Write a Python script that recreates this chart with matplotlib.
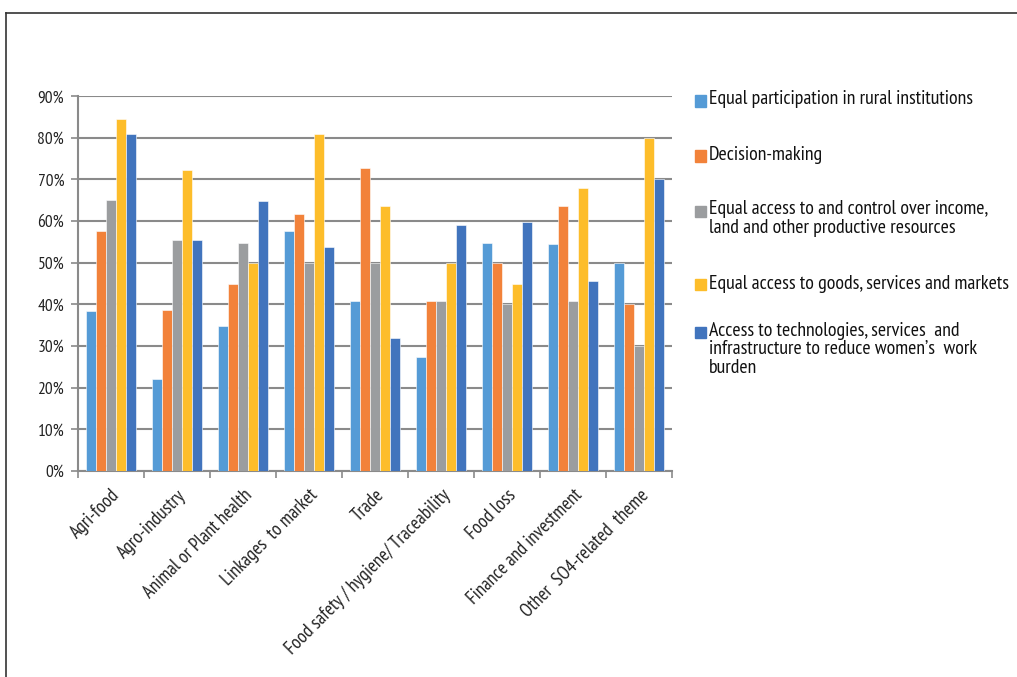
import matplotlib.pyplot as plt
import matplotlib.patches as mpatches
import matplotlib.lines as mlines
import numpy as np

plt.rcParams['font.family'] = ['PT Sans Narrow', 'Liberation Sans', 'DejaVu Sans']

# data
categories = ['Agri-food', 'Agro-industry', 'Animal or Plant health', 'Linkages  to market',
              'Trade', 'Food safety / hygiene/ Traceability', 'Food loss',
              'Finance and investment', 'Other  SO4-related  theme']
series_names = ['Equal participation in rural institutions',
                'Decision-making',
                'Equal access to and control over income,\nland and other productive resources',
                'Equal access to goods, services and markets',
                'Access to technologies, services  and\ninfrastructure to reduce women\u2019s  work\nburden']
participation = [38.4, 22.2, 34.7, 57.6, 40.8, 27.3, 54.8, 54.5, 50.0]
decision = [57.6, 38.7, 44.8, 61.6, 72.7, 40.8, 50.0, 63.7, 40.0]
income_land = [65.1, 55.4, 54.8, 50.0, 50.0, 40.8, 40.0, 40.8, 30.0]
goods_markets = [84.4, 72.3, 50.0, 80.9, 63.7, 50.0, 44.8, 68.0, 80.0]
technologies = [80.9, 55.4, 64.8, 53.7, 31.9, 59.1, 59.8, 45.5, 70.0]
yticks = [0, 10, 20, 30, 40, 50, 60, 70, 80, 90]

values = [participation, decision, income_land, goods_markets, technologies]
colors = ['#559bd6', '#f2823a', '#9b9d9f', '#fdbd2a', '#4174bd']

fig = plt.figure(figsize=(10.17, 6.77), dpi=100, facecolor='white')
ax = fig.add_axes([0.0767, 0.3043, 0.5843, 0.5537])

x = np.arange(len(categories))
w = 0.152
for i, (vals, c) in enumerate(zip(values, colors)):
    ax.bar(x + (i - 2) * w, vals, width=w, color=c, edgecolor='white', linewidth=0.4, zorder=3)

ax.set_ylim(0, 90)
ax.set_xlim(-0.5, len(categories) - 0.5)
ax.set_yticks(yticks)
ax.set_yticklabels([f'{t}%' for t in yticks], fontsize=12.5, color='#222222')
ax.grid(axis='y', color='#8a8a8a', linewidth=1.5, zorder=0)
ax.set_axisbelow(True)

ax.set_xticks(x)
ax.set_xticklabels(categories, rotation=45, ha='right', rotation_mode='anchor',
                   fontsize=13.5, color='#222222')
ax.tick_params(axis='x', which='major', length=0, pad=11)
ax.set_xticks(np.arange(-0.5, len(categories)), minor=True)
ax.tick_params(axis='x', which='minor', length=5, color='#8a8a8a', width=1.2)
ax.tick_params(axis='y', length=5, color='#8a8a8a', width=1.2, pad=5)

for s in ['top', 'right']:
    ax.spines[s].set_visible(False)
for s in ['left', 'bottom']:
    ax.spines[s].set_color('#8a8a8a')
    ax.spines[s].set_linewidth(1.5)

# legend drawn by hand so squares line up with first text line
W, H = 1017, 677
first_line_y = [101, 156, 211, 285, 332]
for name, c, yy in zip(series_names, colors, first_line_y):
    fig.patches.append(mpatches.Rectangle((695 / W, 1 - (yy + 5.5) / H), 11 / W, 11 / H,
                                          transform=fig.transFigure, color=c))
    fig.text(709 / W, 1 - (yy - 10.5) / H, name, fontsize=14.3, va='top', ha='left',
             color='#111111', linespacing=1.05)

# outer frame
fig.add_artist(mlines.Line2D([6 / W, 1], [1 - 13 / H, 1 - 13 / H], color='#333333', lw=1.2))
fig.add_artist(mlines.Line2D([6 / W, 6 / W], [0, 1 - 13 / H], color='#333333', lw=1.2))

fig.savefig('out.png', dpi=100, facecolor='white')
